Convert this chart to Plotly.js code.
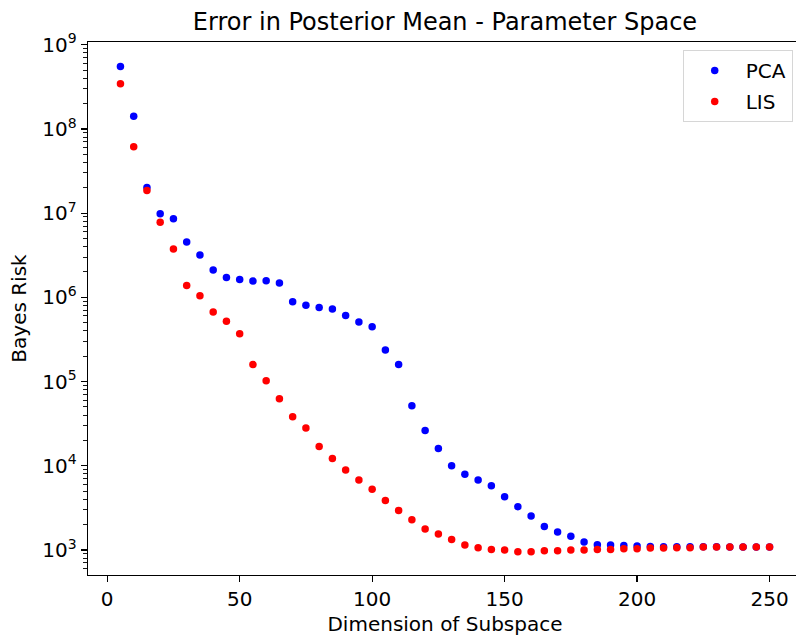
<!DOCTYPE html>
<html>
<head>
<meta charset="utf-8">
<script src="https://cdn.plot.ly/plotly-3.0.1.min.js"></script>
<style>
html, body { margin: 0; padding: 0; overflow: hidden; background: #fff; }
#chart { width: 830px; height: 636px; }
</style>
</head>
<body>
<div id="chart"></div>
<script>
const dims = [5,10,15,20,25,30,35,40,45,50,55,60,65,70,75,80,85,90,95,100,
  105,110,115,120,125,130,135,140,145,150,155,160,165,170,175,180,185,190,195,200,
  205,210,215,220,225,230,235,240,245,250];
const pca = [5.5e8,1.41e8,2.02e7,9.8e6,8.57e6,4.54e6,3.18e6,2.11e6,1.72e6,1.63e6,
  1.56e6,1.57e6,1.48e6,8.87e5,8.02e5,7.59e5,7.26e5,6.1e5,5.09e5,4.48e5,
  2.37e5,1.59e5,5.17e4,2.62e4,1.60e4,1.0e4,7.89e3,6.76e3,5.78e3,4.28e3,
  3.26e3,2.53e3,1.90e3,1.63e3,1.45e3,1.24e3,1.15e3,1.14e3,1.13e3,1.11e3,
  1.10e3,1.09e3,1.09e3,1.09e3,1.09e3,1.09e3,1.085e3,1.08e3,1.08e3,1.08e3];
const lis = [3.44e8,6.15e7,1.85e7,7.76e6,3.75e6,1.38e6,1.04e6,6.68e5,5.18e5,3.70e5,
  1.59e5,1.02e5,6.25e4,3.82e4,2.81e4,1.69e4,1.22e4,8.9e3,6.76e3,5.24e3,
  3.87e3,2.94e3,2.28e3,1.77e3,1.55e3,1.33e3,1.14e3,1.06e3,1.01e3,1.0e3,
  952,952,978,978,1.0e3,1.0e3,1.01e3,1.01e3,1.03e3,1.03e3,
  1.05e3,1.05e3,1.06e3,1.06e3,1.08e3,1.08e3,1.08e3,1.08e3,1.08e3,1.08e3];
const seriesNames = ["PCA", "LIS"];
const seriesColors = ["#0000ff", "#ff0000"];
const xTickVals = [0, 50, 100, 150, 200, 250];
const yExponents = [3, 4, 5, 6, 7, 8, 9];

const yTickVals = yExponents.map(e => Math.pow(10, e));
const yTickText = yExponents.map(e => "10<sup>" + e + "</sup>");
const minorVals = [];
for (let e = 2; e <= 9; e++) {
  for (let m = 2; m <= 9; m++) minorVals.push(m * Math.pow(10, e));
}

const font = "DejaVu Sans, sans-serif";
const fs = 20;
const traces = [pca, lis].map((ys, i) => ({
  x: dims, y: ys, type: "scatter", mode: "markers", name: seriesNames[i],
  legendgroup: "g" + i,
  marker: { color: seriesColors[i], size: 7.5, line: { width: 0 } }
}));

const layout = {
  width: 830, height: 636,
  margin: { l: 88, r: 28, t: 42, b: 61 },
  paper_bgcolor: "#fff", plot_bgcolor: "#fff",
  font: { family: font, color: "#000", size: fs },
  title: { text: "Error in Posterior Mean - Parameter Space", font: { size: 24, family: font, color: "#000" },
    x: (445 / 830), xref: "container", xanchor: "center", y: 1 - 22 / 636, yref: "container", yanchor: "middle" },
  showlegend: true,
  legend: { x: 0.987, y: 0.985, xanchor: "right", yanchor: "top", bgcolor: "rgba(255,255,255,0.8)",
    bordercolor: "#d6d6d6", borderwidth: 1, font: { size: fs, family: font, color: "#000" },
    traceorder: "grouped", tracegroupgap: 2, itemwidth: 52 },
  xaxis: {
    range: [-7.25, 262.25], tickvals: xTickVals, ticks: "outside", ticklen: 6, tickwidth: 1.2,
    tickcolor: "#000", showline: true, linecolor: "#000", linewidth: 1.3, mirror: true,
    showgrid: false, zeroline: false, tickfont: { size: fs, family: font, color: "#000" },
    title: { text: "Dimension of Subspace", font: { size: fs, family: font, color: "#000" }, standoff: 7 }
  },
  yaxis: {
    type: "log", range: [2.702, 9.032], tickmode: "array", tickvals: yTickVals, ticktext: yTickText,
    ticks: "outside", ticklen: 6, tickwidth: 1.2, tickcolor: "#000",
    showline: true, linecolor: "#000", linewidth: 1.3, mirror: true, showgrid: false, zeroline: false,
    tickfont: { size: fs, family: font, color: "#000" },
    minor: { tickmode: "array", tickvals: minorVals, ticks: "outside", ticklen: 3.5, tickwidth: 0.9, tickcolor: "#000", showgrid: false },
    title: { text: "Bayes Risk", font: { size: fs, family: font, color: "#000" }, standoff: 10 }
  }
};

Plotly.newPlot("chart", traces, layout, { displayModeBar: false, staticPlot: true });
</script>
</body>
</html>
